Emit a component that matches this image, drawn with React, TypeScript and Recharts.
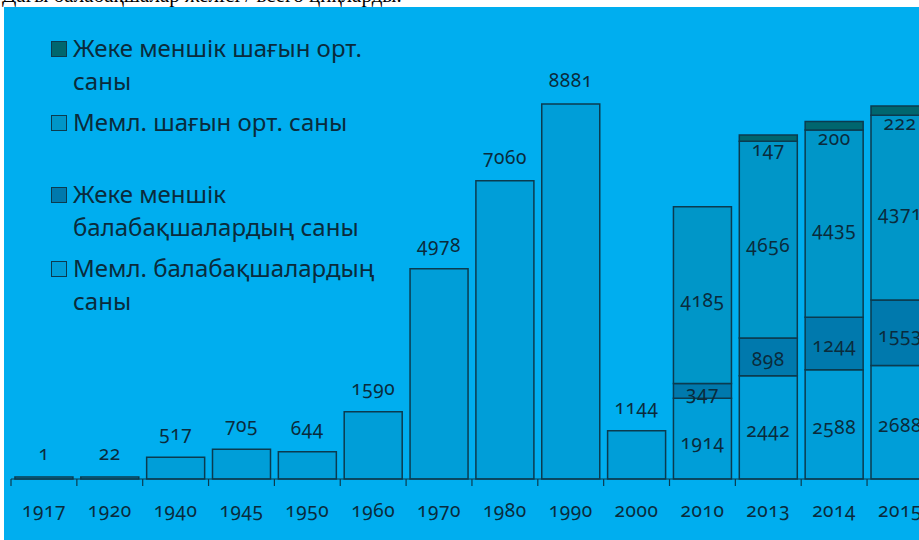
import React from 'react';
import { BarChart, Bar, XAxis, YAxis, LabelList } from 'recharts';

const categories = ['1917', '1920', '1940', '1945', '1950', '1960', '1970', '1980', '1990', '2000', '2010', '2013', '2014', '2015'];
const stateKindergartens = [1, 22, 517, 705, 644, 1590, 4978, 7060, 8881, 1144, 1914, 2442, 2588, 2688];
const privateKindergartens = [null, null, null, null, null, null, null, null, null, null, 347, 898, 1244, 1553];
const stateMiniCentres = [null, null, null, null, null, null, null, null, null, null, 4185, 4656, 4435, 4371];
const privateMiniCentres = [null, null, null, null, null, null, null, null, null, null, null, 147, 200, 222];

const seriesNames = {
  privateMini: 'Жеке меншік шағын орт. саны',
  stateMini: 'Мемл. шағын орт. саны',
  privateKg: 'Жеке меншік балабақшалардың саны',
  stateKg: 'Мемл. балабақшалардың саны',
};

const data = categories.map((year, i) => ({
  year,
  stateKg: stateKindergartens[i],
  privateKg: privateKindergartens[i],
  stateMini: stateMiniCentres[i],
  privateMini: privateMiniCentres[i],
}));

const BG = '#00AEEF';
const INK = '#0A2B3C';
const STROKE = '#0B3B4F';
const COLORS = {
  stateKg: '#009ED8',
  privateKg: '#0079AD',
  stateMini: '#0096C8',
  privateMini: '#00666E',
};
const FONT = '"Noto Sans", "Open Sans", sans-serif';
const NUM_SIZE = 19;

const numStyle: React.CSSProperties = {
  fontVariantNumeric: 'oldstyle-nums',
  fontFeatureSettings: '"onum"',
  letterSpacing: '0.6px',
};

const makeLabel = (mode: 'stateKg' | 'center' | 'below', dy: number) => (props: any) => {
  const vb = props.viewBox && props.viewBox.width != null ? props.viewBox : props;
  const { x, y, width, height } = vb;
  const value = props.value;
  if (value == null || x == null) return null;
  const cx = x + width / 2;
  let cy: number;
  if (mode === 'stateKg') {
    const stacked = privateKindergartens[props.index] != null;
    cy = stacked ? y + height / 2 + 3 : y - 24;
  } else if (mode === 'below') {
    cy = y + height + dy;
  } else {
    cy = y + height / 2 + dy;
  }
  return (
    <text x={cx} y={cy} textAnchor="middle" dominantBaseline="central" fill={INK} fontSize={NUM_SIZE} fontFamily={FONT} style={numStyle}>
      {value}
    </text>
  );
};

const XTick = (props: any) => {
  const { x, y, payload } = props;
  const off = payload && payload.offset != null ? payload.offset : 0;
  return (
    <g>
      <line x1={x - off} x2={x - off} y1={y - 8} y2={y - 1} stroke={STROKE} strokeWidth={1.2} />
      <text x={x} y={y + 23} textAnchor="middle" dominantBaseline="central" fill={INK} fontSize={NUM_SIZE} fontFamily={FONT} style={numStyle}>
        {payload.value}
      </text>
    </g>
  );
};

const legendItems = [
  { key: 'privateMini', lines: ['Жеке меншік шағын орт.', 'саны'], top: 26 },
  { key: 'stateMini', lines: ['Мемл. шағын орт. саны'], top: 100 },
  { key: 'privateKg', lines: ['Жеке меншік', 'балабақшалардың саны'], top: 172 },
  { key: 'stateKg', lines: ['Мемл. балабақшалардың', 'саны'], top: 246 },
];

const LegendBlock = () => (
  <div style={{ position: 'absolute', left: 0, top: 0, width: 420, height: 330, pointerEvents: 'none' }}>
    {legendItems.map((it) => (
      <div key={it.key} style={{ position: 'absolute', left: 47, top: it.top }}>
        <div
          style={{
            position: 'absolute',
            left: 0,
            top: 8,
            width: 16,
            height: 16,
            background: (COLORS as any)[it.key],
            border: `1.5px solid ${STROKE}`,
            boxSizing: 'border-box',
          }}
        />
        {it.lines.map((ln, j) => (
          <div
            key={j}
            style={{
              position: 'absolute',
              left: 22,
              top: j * 33,
              whiteSpace: 'nowrap',
              fontFamily: FONT,
              fontSize: 24,
              lineHeight: '30px',
              color: INK,
            }}
          >
            {ln}
          </div>
        ))}
      </div>
    ))}
  </div>
);

export default function App() {
  return (
    <div style={{ position: 'fixed', left: 0, top: 0, width: 919, height: 540, overflow: 'hidden', background: '#fff' }}>
      <div
        style={{
          position: 'absolute',
          left: 2,
          top: -17,
          fontFamily: '"Liberation Serif", serif',
          fontSize: 21,
          whiteSpace: 'nowrap',
          color: '#000',
        }}
      >
        Дағы балабақшалар желісі / всего циқларды.
      </div>
      <div style={{ position: 'absolute', left: 4, top: 7, width: 915, height: 533, background: BG, overflow: 'hidden' }}>
        <BarChart
          width={1000}
          height={533}
          data={data}
          margin={{ top: 49.7, left: 7, right: 71.1, bottom: 21 }}
          barCategoryGap="6%"
        >
          <XAxis
            dataKey="year"
            height={40}
            axisLine={{ stroke: STROKE, strokeWidth: 1.2 }}
            tickLine={false}
            tick={<XTick />}
            interval={0}
          />
          <YAxis hide domain={[0, 10000]} />
          <Bar dataKey="stateKg" name={seriesNames.stateKg} stackId="a" fill={COLORS.stateKg} stroke={STROKE} strokeWidth={1.5} minPointSize={2} isAnimationActive={false}>
            <LabelList dataKey="stateKg" content={makeLabel('stateKg', 0)} />
          </Bar>
          <Bar dataKey="privateKg" name={seriesNames.privateKg} stackId="a" fill={COLORS.privateKg} stroke={STROKE} strokeWidth={1.5} isAnimationActive={false}>
            <LabelList dataKey="privateKg" content={makeLabel('center', 2)} />
          </Bar>
          <Bar dataKey="stateMini" name={seriesNames.stateMini} stackId="a" fill={COLORS.stateMini} stroke={STROKE} strokeWidth={1.5} isAnimationActive={false}>
            <LabelList dataKey="stateMini" content={makeLabel('center', 5)} />
          </Bar>
          <Bar dataKey="privateMini" name={seriesNames.privateMini} stackId="a" fill={COLORS.privateMini} stroke={STROKE} strokeWidth={1.5} isAnimationActive={false}>
            <LabelList dataKey="privateMini" content={makeLabel('below', 8)} />
          </Bar>
        </BarChart>
        <LegendBlock />
      </div>
    </div>
  );
}
